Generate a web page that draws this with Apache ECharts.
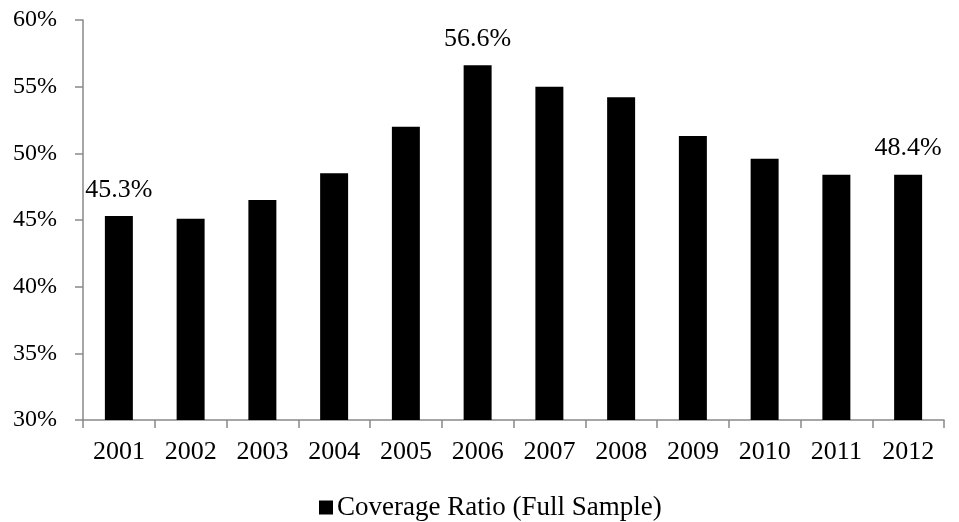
<!DOCTYPE html>
<html>
<head>
<meta charset="utf-8">
<script src="https://cdn.jsdelivr.net/npm/echarts@6/dist/echarts.min.js"></script>
<style>html,body{margin:0;padding:0;background:#fff;}#c{width:959px;height:522px;}</style>
</head>
<body>
<div id="c"></div>
<script>
var categories = ['2001','2002','2003','2004','2005','2006','2007','2008','2009','2010','2011','2012'];
var coverage = [45.3, 45.1, 46.5, 48.5, 52.0, 56.6, 55.0, 54.2, 51.3, 49.6, 48.4, 48.4];
var labelled = ['2001','2006','2012'];
var seriesName = 'Coverage Ratio (Full Sample)';

var font = '"Liberation Serif", "Times New Roman", serif';
var chart = echarts.init(document.getElementById('c'));
chart.setOption({
  animation: false,
  textStyle: {fontFamily: font},
  grid: {left: 83, right: 15, top: 20, bottom: 102, containLabel: false},
  legend: {
    top: 489, left: 314, padding: 5,
    itemWidth: 14, itemHeight: 14, itemGap: 4,
    icon: 'rect',
    textStyle: {fontFamily: font, fontSize: 27, color: '#000', padding: [0, 0, 0, -1]},
    data: [seriesName]
  },
  xAxis: {
    type: 'category', data: categories,
    axisLine: {lineStyle: {color: '#898989', width: 1.5}},
    axisTick: {show: true, length: 8, lineStyle: {color: '#898989', width: 1.5}},
    axisLabel: {fontFamily: font, fontSize: 26, color: '#000', margin: 19}
  },
  yAxis: {
    type: 'value', min: 30, max: 60, interval: 5,
    axisLine: {show: true, lineStyle: {color: '#898989', width: 1.5}},
    axisTick: {show: true, length: 8, lineStyle: {color: '#898989', width: 1.5}},
    splitLine: {show: false},
    axisLabel: {fontFamily: font, fontSize: 24, color: '#000', margin: 26, formatter: '{value}%'}
  },
  series: [{
    name: seriesName, type: 'bar', barWidth: '39%',
    itemStyle: {color: '#000'},
    data: coverage.map(function (v, i) {
      return {
        value: v,
        label: {
          show: labelled.indexOf(categories[i]) >= 0,
          position: 'top', distance: 13,
          fontFamily: font, fontSize: 26, color: '#000',
          formatter: function (p) { return p.value.toFixed(1) + '%'; }
        }
      };
    })
  }]
});
</script>
</body>
</html>
